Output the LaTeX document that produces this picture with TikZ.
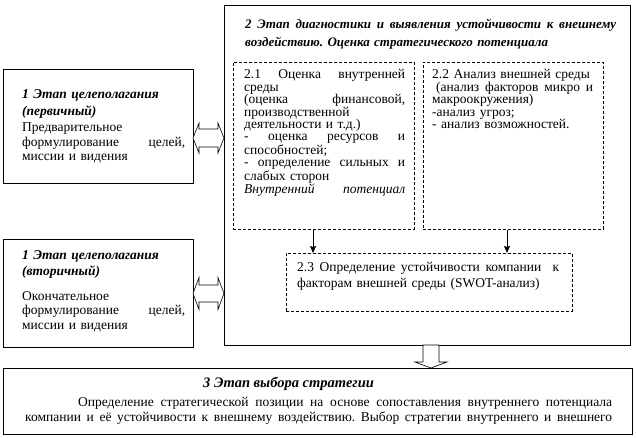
\documentclass[tikz,border=0pt]{standalone}
\usepackage{fontspec}
\setmainfont{Liberation Serif}
\usetikzlibrary{arrows.meta,calc}
\frenchspacing
\newcommand\jline[1]{\makebox[\hsize][s]{\spaceskip=\fontdimen2\font plus 1fil\relax\xspaceskip=\spaceskip #1}}
\begin{document}
\begin{tikzpicture}[x=1pt,y=-1pt,
  solidbox/.style={draw, line width=0.8pt, inner sep=0pt, anchor=north west},
  dashbox/.style={draw, line width=0.8pt, dash pattern=on 3pt off 2pt, inner sep=0pt, anchor=north west},
  txt/.style={anchor=base west, inner sep=0pt, align=left, font=\fontsize{13.5}{12.4}\selectfont},
  bodytxt/.style={txt, font=\fontsize{13.5}{14.5}\selectfont},
  headtxt/.style={txt, font=\fontsize{13.5}{16.5}\selectfont\bfseries\itshape},
  blockarrow/.style={draw, line width=0.6pt, fill=white},
  conn/.style={draw, line width=0.8pt, -{Stealth[length=7pt,width=6pt,inset=1pt]}}
]
\useasboundingbox (0,0) rectangle (636,438);
\fill[white] (0,0) rectangle (636,438);

% boxes
\node[solidbox, minimum width=190pt, minimum height=114pt] (b1) at (3,69) {};
\node[solidbox, minimum width=190pt, minimum height=108pt] (b1b) at (3,239) {};
\node[solidbox, minimum width=406pt, minimum height=340pt] (big) at (224,5) {};
\node[dashbox, minimum width=181pt, minimum height=167pt] (b21) at (233,62) {};
\node[dashbox, minimum width=180pt, minimum height=167pt] (b22) at (423,62) {};
\node[dashbox, minimum width=286pt, minimum height=58pt] (b23) at (286,253) {};
\node[solidbox, minimum width=629pt, minimum height=66pt] (b3) at (3,368) {};

% texts box 1
\node[headtxt, text width=163pt] (t1h) at (22,99) {1 Этап целеполагания\\(первичный)};
\node[bodytxt, text width=163pt] (t1b) at (22,132) {Предварительное\\\jline{формулирование целей,}\\миссии и видения};

% texts box 1b
\node[headtxt, text width=163pt] (t1bh) at (22,259) {1 Этап целеполагания\\(вторичный)};
\node[bodytxt, text width=163pt] (t1bb) at (22,300) {Окончательное\\\jline{формулирование целей,}\\миссии и видения};

% big title
\node[headtxt, text width=371pt, font=\fontsize{13}{18}\selectfont\bfseries\itshape] (tbig) at (245,28.5) {\jline{2 Этап диагностики и выявления устойчивости к внешнему}\\воздействию. Оценка стратегического потенциала};

% box 2.1
\node[txt, text width=161pt] (t21) at (244,79) {\jline{2.1 Оценка внутренней}\\
среды\\
\jline{(оценка финансовой,}\\
производственной\\
деятельности и т.д.)\\
\jline{- оценка ресурсов и}\\
способностей;\\
\jline{- определение сильных и}\\
слабых сторон\\
\jline{\itshape Внутренний потенциал}};

% box 2.2
\node[txt, text width=161pt] (t22) at (432,79) {2.2 Анализ внешней среды\\
\jline{\kern4pt(анализ факторов микро и}\\
макроокружения)\\
-анализ угроз;\\
- анализ возможностей.};

% box 2.3
\node[txt, text width=262pt, font=\fontsize{13.5}{16}\selectfont] (t23) at (297,271) {\jline{2.3 Определение устойчивости компании \ к}\\
факторам внешней среды (SWOT-анализ)};

% box 3
\node[headtxt, font=\fontsize{14.5}{17}\selectfont\bfseries\itshape] (t3h) at (203,387) {3 Этап выбора стратегии};
\node[txt, text width=587pt, font=\fontsize{13.5}{15}\selectfont] (t3b) at (25,406) {\jline{\kern53pt Определение стратегической позиции на основе сопоставления внутреннего потенциала}\\
\jline{компании и её устойчивости к внешнему воздействию. Выбор стратегии внутреннего и внешнего}};

% connectors 2.1/2.2 -> 2.3
\draw[conn] ([xshift=80pt]b21.south west) -- ([xshift=80pt]b21.south west |- b23.north);
\draw[conn] ([xshift=84pt]b22.south west) -- ([xshift=84pt]b22.south west |- b23.north);

% block double arrows
\coordinate (da1) at (193,138);
\draw[blockarrow] (da1) -- ++(6,-15) -- ++(0,6) -- ++(19,0) -- ++(0,-6) -- ++(6,15) -- ++(-6,15) -- ++(0,-6) -- ++(-19,0) -- ++(0,6) -- cycle;
\coordinate (da2) at (193,293.5);
\draw[blockarrow] (da2) -- ++(6,-16) -- ++(0,7.5) -- ++(19,0) -- ++(0,-7.5) -- ++(6,16) -- ++(-6,16) -- ++(0,-7.5) -- ++(-19,0) -- ++(0,7.5) -- cycle;

% block down arrow
\coordinate (da3) at (423,345);
\draw[blockarrow] (da3) -- ++(0,17) -- ++(-8,0) -- ++(16,6) -- ++(16,-6) -- ++(-8,0) -- ++(0,-17) -- cycle;
\end{tikzpicture}
\end{document}
